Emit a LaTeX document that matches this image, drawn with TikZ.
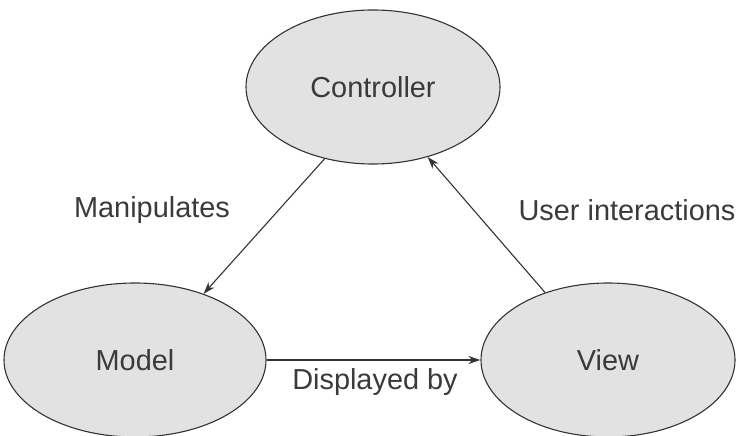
\documentclass[tikz,border=0pt]{standalone}
\usepackage{fontspec}
\setmainfont{Liberation Sans}
\definecolor{fillOval}{HTML}{E2E2E2}
\definecolor{lineDark}{HTML}{333333}
\definecolor{textDark}{HTML}{3A3A3A}
\usepackage{tikz}
\usetikzlibrary{shapes.geometric, arrows.meta}
\tikzset{
  mvcOval/.style={ellipse, draw=lineDark, fill=fillOval, line width=1.1bp, inner sep=0pt,
    text=textDark, font=\fontsize{29}{34}\selectfont},
  mvcArrow/.style={draw=lineDark, line width=1.1bp, -{Stealth[length=12bp, width=8bp]}},
  mvcLabel/.style={text=textDark, font=\fontsize{29}{34}\selectfont, inner sep=0pt}
}

\begin{document}
\begin{tikzpicture}[x=1bp, y=-1bp]
  \useasboundingbox (0,0) rectangle (740,436);
  \node[mvcOval, minimum width=254bp, minimum height=154bp] (controller) at (373,87) {Controller};
  \node[mvcOval, minimum width=262bp, minimum height=154bp] (model) at (135,360) {Model};
  \node[mvcOval, minimum width=254bp, minimum height=154bp] (view) at (608,360) {View};

  \draw[mvcArrow] (controller.236) -- (model.44);
  \draw[mvcArrow] (model.east) -- (view.west);
  \draw[mvcArrow] (view.133) -- (controller.308);

  \node[mvcLabel] (manipulates) at (152,210) {Manipulates};
  \node[mvcLabel] (interactions) at (627,210) {User interactions};
  \node[mvcLabel] (displayed) at (375,382) {Displayed by};
\end{tikzpicture}
\end{document}
